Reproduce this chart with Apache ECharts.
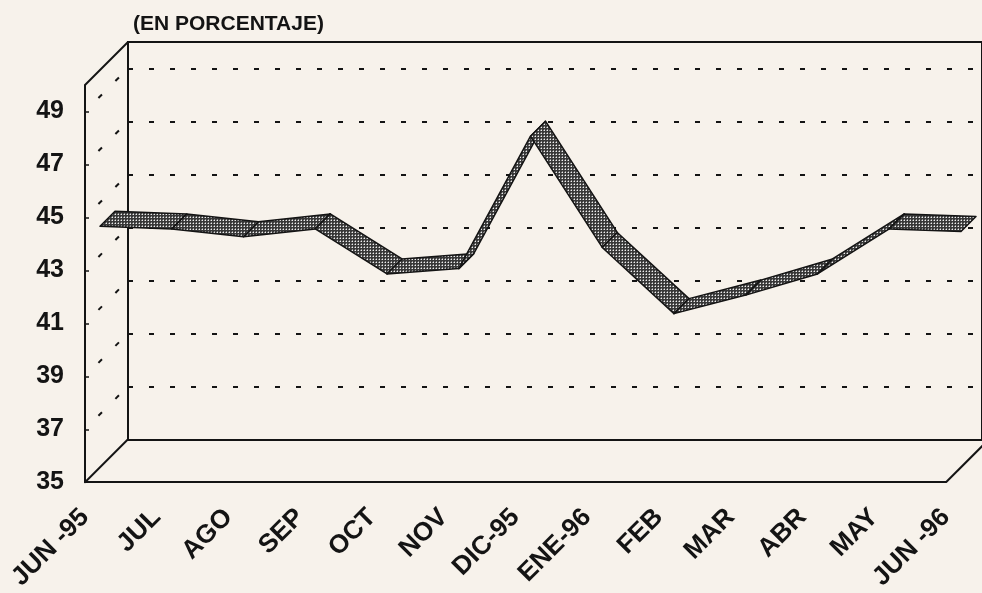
<!DOCTYPE html>
<html>
<head>
<meta charset="utf-8">
<script src="https://cdn.jsdelivr.net/npm/echarts@6/dist/echarts.min.js"></script>
<style>
  html, body { margin: 0; padding: 0; background: #f7f2eb; }
  #chart { width: 982px; height: 593px; }
</style>
</head>
<body>
<div id="chart"></div>
<script>
// months along the floor
const months = ['JUN -95', 'JUL', 'AGO', 'SEP', 'OCT', 'NOV', 'DIC-95', 'ENE-96', 'FEB', 'MAR', 'ABR', 'MAY', 'JUN -96'];
// percentage, read at the front plane of the box
const values = [44.1, 44.0, 43.7, 44.0, 42.3, 42.5, 47.5, 43.3, 40.8, 41.5, 42.3, 44.0, 43.9];
// odd gridline levels drawn on the left wall
const wallLevels = [37, 39, 41, 43, 45, 47, 49];
const yMin = 35, yMax = 50, yStep = 2;

const DEPTH = 43;            // box depth, px
const RIB_FRONT = 15, RIB_BACK = 30; // ribbon position inside the box
const FONT = 'Liberation Sans, Arial, sans-serif';
const INK = '#141414';

// stippled ribbon fill
const tile = document.createElement('canvas');
tile.width = 3; tile.height = 3;
const tctx = tile.getContext('2d');
tctx.fillStyle = '#383838'; tctx.fillRect(0, 0, 3, 3);
tctx.fillStyle = '#888888'; tctx.fillRect(0, 1, 1, 1); tctx.fillRect(1, 0, 1, 1);
tctx.fillStyle = '#eeeeee'; tctx.fillRect(1, 1, 1, 1);
const ribbonFill = { image: tile, repeat: 'repeat' };

const segments = values.slice(0, -1).map((v, i) => [i, v, i + 1, values[i + 1]]);

const chart = echarts.init(document.getElementById('chart'));

function diag(p, len, style) {
  return {
    type: 'line',
    shape: { x1: p[0], y1: p[1], x2: p[0] + len, y2: p[1] - len },
    style: style
  };
}

chart.setOption({
  backgroundColor: '#f7f2eb',
  animation: false,
  title: {
    text: '(EN PORCENTAJE)',
    left: 128, top: 9,
    textStyle: { fontFamily: FONT, fontWeight: 'bold', fontSize: 21, color: INK }
  },
  grid: [
    { left: 85, right: 36, top: 85, bottom: 110 },
    { left: 128, right: -7, top: 42, bottom: 153, show: true, borderColor: INK, borderWidth: 2, backgroundColor: 'transparent' }
  ],
  xAxis: [
    {
      gridIndex: 0, type: 'category', data: months, boundaryGap: false,
      axisLine: { lineStyle: { color: INK, width: 2 } },
      axisTick: { show: false },
      axisLabel: { interval: 0, rotate: 45, margin: 31, color: INK, fontFamily: FONT, fontWeight: 'bold', fontSize: 26 },
      splitLine: { show: false }
    },
    { gridIndex: 1, type: 'category', data: months, boundaryGap: false, show: false }
  ],
  yAxis: [
    {
      gridIndex: 0, type: 'value', min: yMin, max: yMax, interval: yStep,
      axisLine: { show: true, lineStyle: { color: INK, width: 2 } },
      axisTick: { show: true, inside: true, length: 4, lineStyle: { color: INK, width: 1.5 } },
      axisLabel: { margin: 21, color: INK, fontFamily: FONT, fontWeight: 'bold', fontSize: 25, showMaxLabel: false },
      splitLine: { show: false }
    },
    {
      gridIndex: 1, type: 'value', min: yMin, max: yMax, interval: yStep,
      axisLine: { show: false }, axisTick: { show: false }, axisLabel: { show: false },
      splitLine: { show: true, lineStyle: { color: INK, width: 2, type: [5, 16] } }
    }
  ],
  series: [
    {
      // box edges running into depth, plus dashed left wall
      type: 'custom', xAxisIndex: 0, yAxisIndex: 0, clip: false, silent: true,
      data: [[0, yMin]],
      renderItem: function (params, api) {
        const solid = { stroke: INK, lineWidth: 2, fill: null };
        const children = [
          diag(api.coord([0, yMax]), DEPTH, solid),
          diag(api.coord([0, yMin]), DEPTH, solid),
          diag(api.coord([months.length - 1, yMin]), DEPTH, solid)
        ];
        wallLevels.forEach(function (lv) {
          children.push(diag(api.coord([0, lv]), DEPTH, {
            stroke: INK, lineWidth: 2, fill: null, lineDash: [5, 19], lineDashOffset: 5
          }));
        });
        return { type: 'group', children: children };
      }
    },
    {
      type: 'custom', xAxisIndex: 0, yAxisIndex: 0, clip: false, silent: true, z: 5,
      dimensions: ['x0', 'y0', 'x1', 'y1'],
      encode: { x: 0, y: 1 },
      data: segments,
      renderItem: function (params, api) {
        const a = api.coord([api.value(0), api.value(1)]);
        const b = api.coord([api.value(2), api.value(3)]);
        const pts = [
          [a[0] + RIB_FRONT, a[1] - RIB_FRONT],
          [b[0] + RIB_FRONT, b[1] - RIB_FRONT],
          [b[0] + RIB_BACK, b[1] - RIB_BACK],
          [a[0] + RIB_BACK, a[1] - RIB_BACK]
        ];
        return {
          type: 'polygon',
          shape: { points: pts },
          style: { fill: ribbonFill, stroke: INK, lineWidth: 1.5, lineJoin: 'round' }
        };
      }
    }
  ]
});
</script>
</body>
</html>
